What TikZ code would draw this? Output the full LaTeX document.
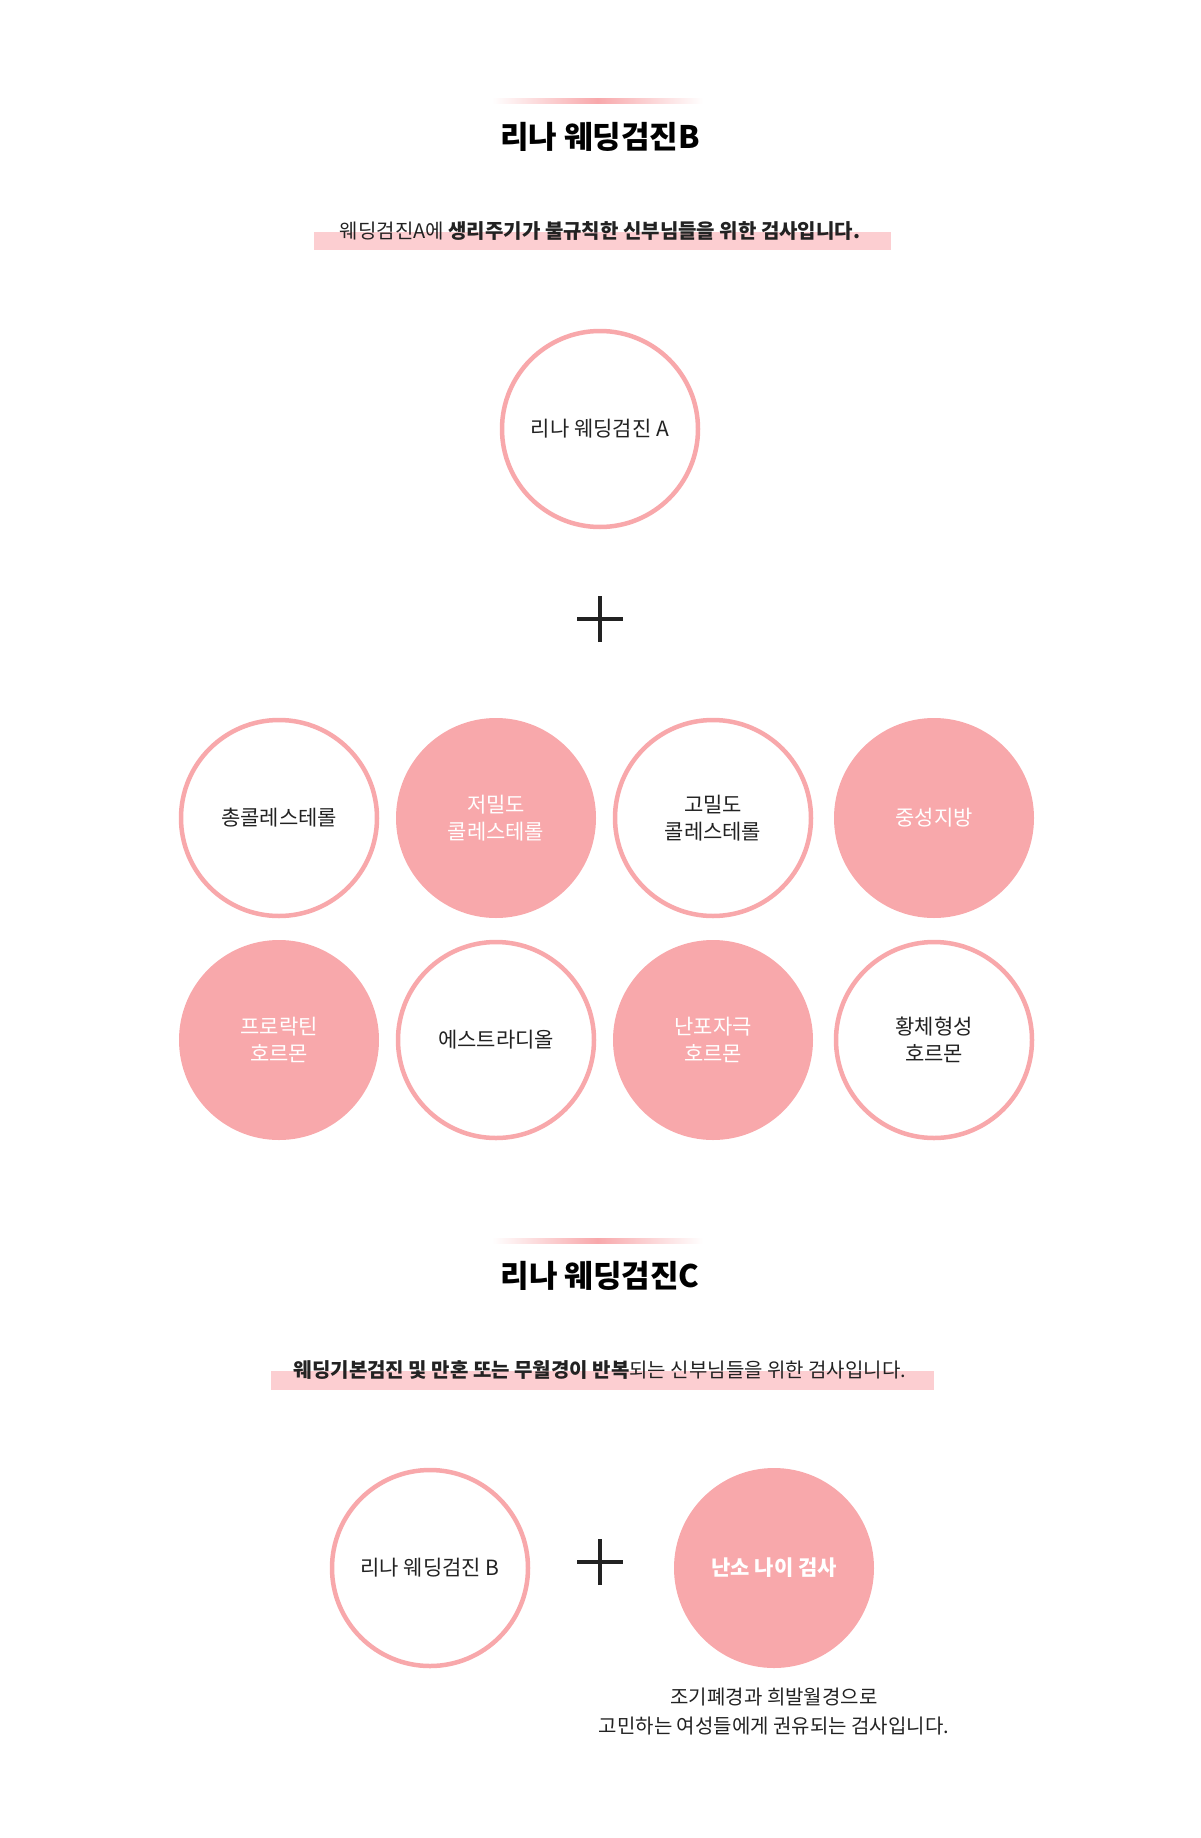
\documentclass[tikz,border=0pt]{standalone}
\usepackage{fontspec}
\setmainfont{Noto Sans CJK KR}
\usetikzlibrary{positioning}
\definecolor{rosa}{HTML}{F8A8AB}
\definecolor{bandpink}{HTML}{FCCED1}
\definecolor{inktext}{HTML}{222222}

\tikzset{
  ring/.style={circle, draw=rosa, line width=4.5pt, fill=white, minimum size=196pt, inner sep=0pt, align=center, text=inktext, font=\fontsize{21}{27}\selectfont},
  disc/.style={circle, fill=rosa, minimum size=200pt, inner sep=0pt, align=center, text=white, font=\fontsize{21}{27}\selectfont},
  heading/.style={font=\fontsize{31}{36}\selectfont\bfseries, text=black},
  lead/.style={font=\fontsize{20}{24}\selectfont, text=inktext},
  plus/.style={line width=4pt, draw=inktext}
}

\begin{document}
\begin{tikzpicture}[x=1pt, y=-1pt]
  \useasboundingbox (0,0) rectangle (1200,1838);

  % Section B
  \shade[left color=white, right color=white, middle color=rosa] (492,99) rectangle (703,104);
  \node[heading] (titleB) at (600,137) {리나 웨딩검진B};
  \fill[bandpink] (314,232) rectangle (891,250);
  \node[lead] (leadB) at (600,231) {웨딩검진A에 \textbf{생리주기가 불규칙한 신부님들을 위한 검사입니다.}};

  \node[ring] (examA) at (600,429) {리나 웨딩검진 A};
  \coordinate (plusB) at (600,619);
  \draw[plus] ([xshift=-23pt]plusB) -- ([xshift=23pt]plusB);
  \draw[plus] ([yshift=-23pt]plusB) -- ([yshift=23pt]plusB);

  \node[ring] (chol) at (279,818) {총콜레스테롤};
  \node[disc] (ldl) at (496,818) {저밀도\\콜레스테롤};
  \node[ring] (hdl) at (713,818) {고밀도\\콜레스테롤};
  \node[disc] (tg) at (934,818) {중성지방};
  \node[disc] (prl) at (279,1040) {프로락틴\\호르몬};
  \node[ring] (e2) at (496,1040) {에스트라디올};
  \node[disc] (fsh) at (713,1040) {난포자극\\호르몬};
  \node[ring] (lh) at (934,1040) {황체형성\\호르몬};

  % Section C
  \shade[left color=white, right color=white, middle color=rosa] (492,1238) rectangle (703,1243);
  \node[heading] (titleC) at (600,1276) {리나 웨딩검진C};
  \fill[bandpink] (271,1371) rectangle (934,1390);
  \node[lead] (leadC) at (600,1370) {\textbf{웨딩기본검진 및 만혼 또는 무월경이 반복}되는 신부님들을 위한 검사입니다.};

  \node[ring] (examB) at (430,1568) {리나 웨딩검진 B};
  \coordinate (plusC) at (600,1562);
  \draw[plus] ([xshift=-23pt]plusC) -- ([xshift=23pt]plusC);
  \draw[plus] ([yshift=-23pt]plusC) -- ([yshift=23pt]plusC);
  \node[disc, font=\fontsize{21}{27}\selectfont\bfseries] (amh) at (774,1568) {난소 나이 검사};
  \node[lead, align=center, font=\fontsize{20}{29}\selectfont] (noteC) at (774,1711) {조기폐경과 희발월경으로\\고민하는 여성들에게 권유되는 검사입니다.};
\end{tikzpicture}
\end{document}
